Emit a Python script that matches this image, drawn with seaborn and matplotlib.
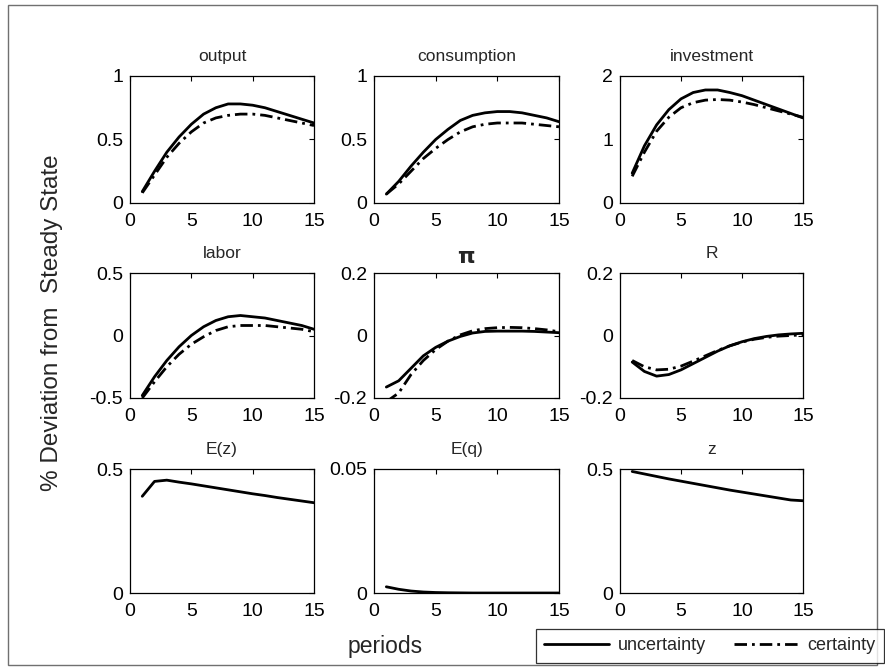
import numpy as np
import pandas as pd
import matplotlib
matplotlib.use("Agg")
import matplotlib.pyplot as plt
import seaborn as sns
from matplotlib.lines import Line2D
from matplotlib.patches import Rectangle

sns.set_style("white")
plt.rcParams['font.family'] = ['Liberation Sans', 'DejaVu Sans']

periods = list(range(1, 16))

titles = ["output", "consumption", "investment", "labor", r"$\mathbf{\pi}$", "R", "E(z)", "E(q)", "z"]

output_unc = [0.09, 0.25, 0.40, 0.52, 0.62, 0.70, 0.75, 0.78, 0.78, 0.77, 0.75, 0.72, 0.69, 0.66, 0.63]
output_cer = [0.08, 0.22, 0.36, 0.47, 0.56, 0.63, 0.67, 0.69, 0.70, 0.70, 0.69, 0.67, 0.65, 0.63, 0.61]
cons_unc = [0.07, 0.17, 0.29, 0.40, 0.50, 0.58, 0.65, 0.69, 0.71, 0.72, 0.72, 0.71, 0.69, 0.67, 0.64]
cons_cer = [0.07, 0.15, 0.25, 0.35, 0.43, 0.50, 0.56, 0.60, 0.62, 0.63, 0.63, 0.63, 0.62, 0.61, 0.60]
inv_unc = [0.47, 0.90, 1.23, 1.47, 1.64, 1.74, 1.78, 1.78, 1.74, 1.69, 1.62, 1.55, 1.48, 1.41, 1.34]
inv_cer = [0.42, 0.80, 1.13, 1.35, 1.50, 1.58, 1.62, 1.63, 1.62, 1.59, 1.55, 1.50, 1.45, 1.40, 1.35]
labor_unc = [-0.48, -0.33, -0.20, -0.09, 0.00, 0.07, 0.12, 0.15, 0.16, 0.15, 0.14, 0.12, 0.10, 0.08, 0.05]
labor_cer = [-0.50, -0.37, -0.25, -0.15, -0.07, -0.01, 0.04, 0.07, 0.08, 0.08, 0.08, 0.07, 0.06, 0.05, 0.03]
pi_unc = [-0.165, -0.145, -0.105, -0.065, -0.038, -0.018, -0.003, 0.008, 0.013, 0.014, 0.014, 0.014, 0.013, 0.011, 0.009]
pi_cer = [-0.212, -0.184, -0.125, -0.08, -0.045, -0.018, 0.002, 0.015, 0.022, 0.025, 0.026, 0.025, 0.022, 0.018, 0.012]
R_unc = [-0.085, -0.115, -0.13, -0.125, -0.11, -0.09, -0.07, -0.05, -0.033, -0.02, -0.01, -0.003, 0.002, 0.005, 0.007]
R_cer = [-0.08, -0.10, -0.11, -0.108, -0.098, -0.082, -0.065, -0.048, -0.033, -0.021, -0.012, -0.006, -0.002, 0.0, 0.002]
Ez_unc = [0.39, 0.45, 0.455, 0.447, 0.44, 0.432, 0.424, 0.416, 0.408, 0.40, 0.393, 0.385, 0.378, 0.371, 0.364]
Eq_unc = [0.0025, 0.0015, 0.0008, 0.0004, 0.0002, 0.0001, 0.00005, 0.0, 0.0, 0.0, 0.0, 0.0, 0.0, 0.0, 0.0]
z_unc = [0.49, 0.48, 0.47, 0.46, 0.451, 0.442, 0.433, 0.424, 0.415, 0.407, 0.399, 0.391, 0.383, 0.375, 0.372]

series = [
    (output_unc, output_cer), (cons_unc, cons_cer), (inv_unc, inv_cer),
    (labor_unc, labor_cer), (pi_unc, pi_cer), (R_unc, R_cer),
    (Ez_unc, None), (Eq_unc, None), (z_unc, None),
]
ylims = [(0, 1), (0, 1), (0, 2), (-0.5, 0.5), (-0.2, 0.2), (-0.2, 0.2), (0, 0.5), (0, 0.05), (0, 0.5)]
yticks = [[0, 0.5, 1], [0, 0.5, 1], [0, 1, 2], [-0.5, 0, 0.5], [-0.2, 0, 0.2], [-0.2, 0, 0.2],
          [0, 0.5], [0, 0.05], [0, 0.5]]
ytick_labels = [["0", "0.5", "1"], ["0", "0.5", "1"], ["0", "1", "2"], ["-0.5", "0", "0.5"],
                ["-0.2", "0", "0.2"], ["-0.2", "0", "0.2"], ["0", "0.5"], ["0", "0.05"], ["0", "0.5"]]
xticks = [0, 5, 10, 15]

W, H = 885, 672
fig = plt.figure(figsize=(W / 100, H / 100), dpi=100)

col_px = [(130, 314), (374, 559), (620, 803)]
row_px = [(76, 203), (273, 398), (469, 593)]

dashdot = (0, (4.5, 1.8, 1.0, 1.8))

for i in range(9):
    r, c = divmod(i, 3)
    x0, x1 = col_px[c]
    y0, y1 = row_px[r]
    ax = fig.add_axes([x0 / W, 1 - y1 / H, (x1 - x0) / W, (y1 - y0) / H])
    unc, cer = series[i]
    df = pd.DataFrame({"period": periods, "value": unc})
    sns.lineplot(data=df, x="period", y="value", ax=ax, color="black", linewidth=2.0)
    if cer is not None:
        df2 = pd.DataFrame({"period": periods, "value": cer})
        sns.lineplot(data=df2, x="period", y="value", ax=ax, color="black", linewidth=2.0,
                     linestyle=dashdot)
    ax.set_xlim(0, 15)
    ax.set_ylim(*ylims[i])
    ax.set_xticks(xticks)
    ax.set_xticklabels([str(t) for t in xticks])
    ax.set_yticks(yticks[i])
    ax.set_yticklabels(ytick_labels[i])
    ax.set_xlabel("")
    ax.set_ylabel("")
    ax.tick_params(direction="in", length=3.5, width=0.8, top=True, right=True,
                   labelsize=14, colors="black")
    ax.tick_params(axis="x", pad=7)
    ax.tick_params(axis="y", pad=5)
    for s in ax.spines.values():
        s.set_visible(True)
        s.set_color("black")
        s.set_linewidth(0.9)
    if i == 4:
        ax.set_title(titles[i], fontsize=16, pad=7, family='DejaVu Sans')
    else:
        ax.set_title(titles[i], fontsize=12.5, pad=11)

fig.text(52 / W, 1 - 323 / H, "% Deviation from  Steady State", rotation=90,
         ha="center", va="center", fontsize=17.5)
fig.text(385 / W, 1 - 647 / H, "periods", ha="center", va="center", fontsize=16.5)

handles = [Line2D([], [], color="black", lw=2.0, linestyle="-"),
           Line2D([], [], color="black", lw=2.0, linestyle=dashdot)]
leg = fig.legend(handles, ["uncertainty", "certainty"], ncol=2,
                 loc="center", bbox_to_anchor=(710 / W, 1 - 646 / H),
                 fontsize=13, frameon=True, fancybox=False, edgecolor="black",
                 handlelength=3.6, columnspacing=1.6, handletextpad=0.45,
                 borderpad=0.45, borderaxespad=0)
leg.get_frame().set_linewidth(0.9)

fig.patches.append(Rectangle((8 / W, 1 - 665 / H), (877 - 8) / W, (665 - 5) / H,
                             transform=fig.transFigure, fill=False,
                             edgecolor="#707070", linewidth=1.0))

fig.savefig("out.png", dpi=100)
